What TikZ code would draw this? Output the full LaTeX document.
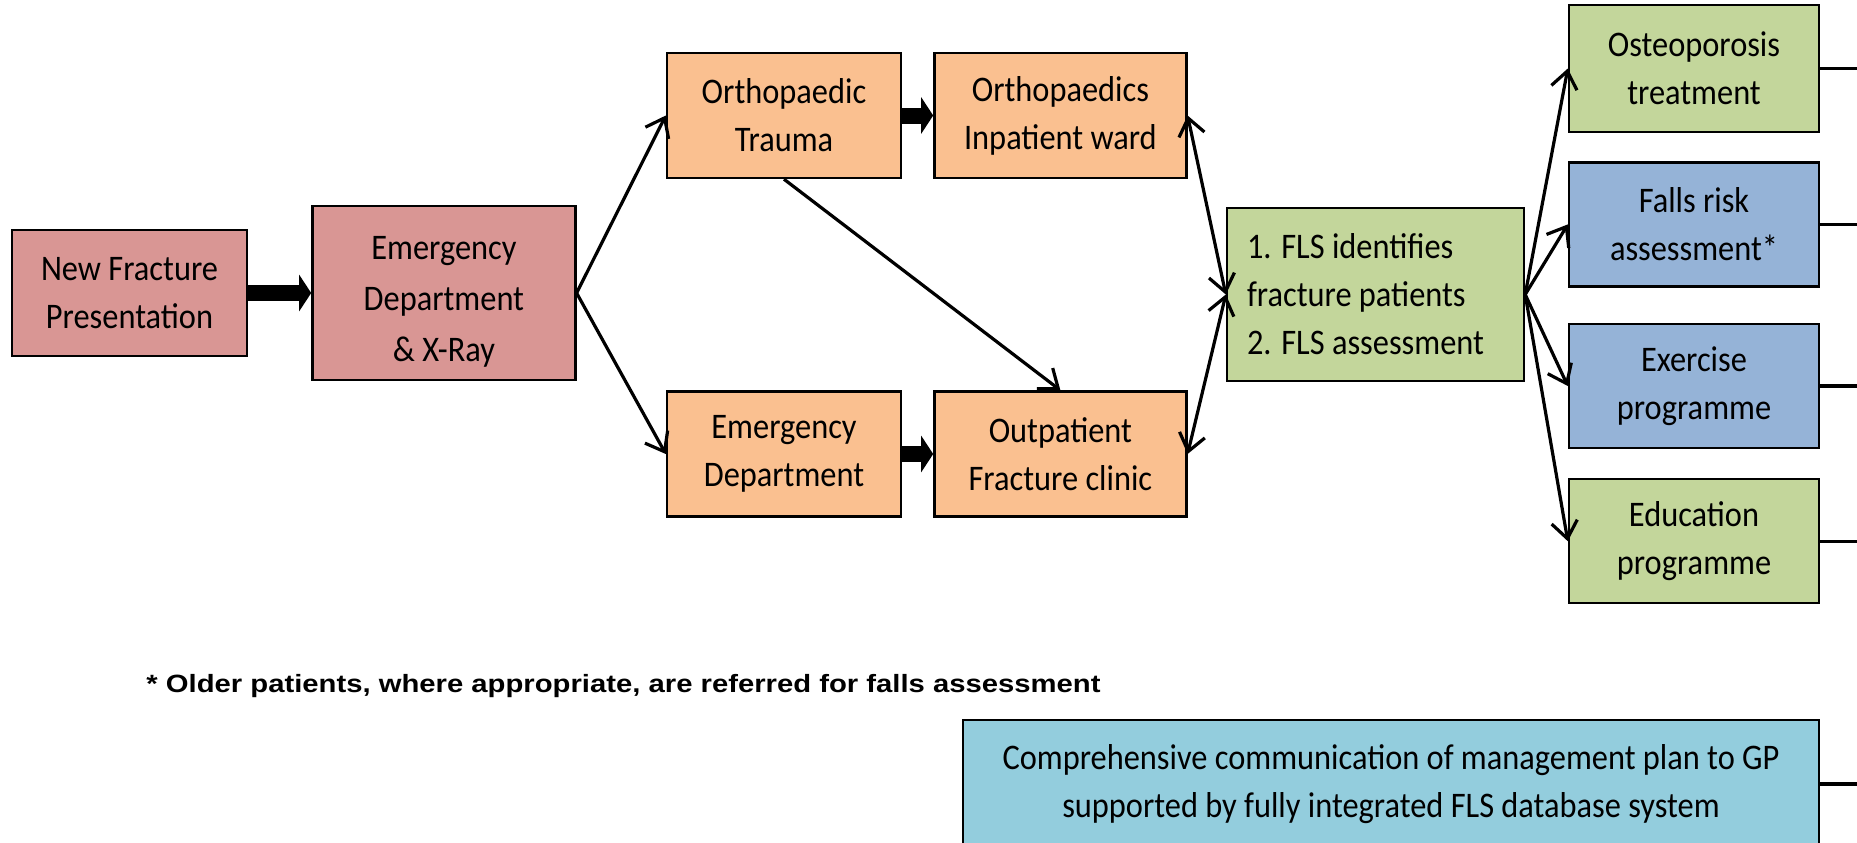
\documentclass[tikz,border=0pt]{standalone}
\usepackage{fontspec}
\setmainfont{Carlito}[FakeStretch=0.9]
\newfontfamily\notefont{Liberation Sans}[FakeStretch=1.17]
\usetikzlibrary{arrows.meta, positioning}

\definecolor{edred}{HTML}{D99694}
\definecolor{wardorange}{HTML}{FAC090}
\definecolor{flsgreen}{HTML}{C3D69B}
\definecolor{riskblue}{HTML}{95B3D7}
\definecolor{gpcyan}{HTML}{93CDDD}

\begin{document}
\begin{tikzpicture}[
  x=0.5pt, y=-0.5pt,
  box/.style={rectangle, draw, line width=1.2pt, align=center, inner sep=2pt,
    font=\fontsize{18}{24}\selectfont},
  mid/.style={box, fill=wardorange, minimum height=62.5pt},
  side/.style={box, minimum width=125pt, minimum height=62pt},
  edge/.style={-{Straight Barb[length=8.5pt,width=13pt]}, line width=1.6pt},
  twoway/.style={{Straight Barb[length=8.5pt,width=13pt]}-{Straight Barb[length=8.5pt,width=13pt]}, line width=1.6pt},
  bigedge/.style={-{Triangle[length=6pt,width=18pt]}, line width=8pt},
  node distance=15.5pt
]
\useasboundingbox (0,0) rectangle (1857,842);

\node[box, fill=edred, minimum width=117.5pt, minimum height=63pt] (nf) at (129.5,293) {New Fracture\\Presentation};
\node[box, fill=edred, minimum width=131.5pt, minimum height=87pt, right=31.5pt of nf,
  font=\fontsize{18}{25.5}\selectfont] (ed) {\rule{0pt}{20pt}Emergency\\Department\\\& X-Ray};

\node[mid, minimum width=117pt] (ot) at (784,115.5) {Orthopaedic\\Trauma};
\node[mid, minimum width=126pt, right=of ot] (oi) {Orthopaedics\\Inpatient ward};
\node[mid, minimum width=117pt] (edpt) at (784,454) {Emergency\\Department};
\node[mid, minimum width=126pt, right=of edpt] (op) {Outpatient\\Fracture clinic};

\node[box, fill=flsgreen, align=flush left, text width=128.5pt, inner xsep=10pt, minimum height=86.5pt] (fls) at (1375.5,294.5) {1. FLS identifies\\fracture patients\\2. FLS assessment};

\node[side, fill=flsgreen, minimum height=63.5pt] (osteo) at (1694,68.5) {Osteoporosis\\treatment};
\node[side, fill=riskblue, below=14pt of osteo] (falls) {Falls risk\\assessment*};
\node[side, fill=riskblue, below=17.6pt of falls] (exer) {Exercise\\programme};
\node[side, fill=flsgreen, below=14.4pt of exer] (educ) {Education\\programme};

\node[box, fill=gpcyan, minimum width=428pt, minimum height=64pt] (comm) at (1391,784) {Comprehensive communication of management plan to GP\\supported by fully integrated FLS database system};

\node[anchor=base west, inner sep=0pt, font={\notefont\bfseries\fontsize{12.5}{15}\selectfont}] (note) at (146,692) {* Older patients, where appropriate, are referred for falls assessment};

% flow through the pathway
\draw[bigedge] (nf) -- (ed);
\draw[bigedge] (ot) -- (oi);
\draw[bigedge] (edpt) -- (op);
\draw[edge] (ed.east) -- (ot.west);
\draw[edge] (ed.east) -- (edpt.west);
\draw[edge] (ot.south) -- (op.north);
\draw[twoway] (oi.east) -- (fls.west);
\draw[twoway] (op.east) -- (fls.west);
\foreach \n in {osteo, falls, exer, educ}
  \draw[edge] (fls.east) -- (\n.west);

% lines leaving the picture on the right
\coordinate (rim) at (1880,0);
\foreach \n in {osteo, falls, exer, educ, comm}
  \draw[line width=1.6pt] (\n.east) -- (\n.east -| rim);
\end{tikzpicture}
\end{document}
